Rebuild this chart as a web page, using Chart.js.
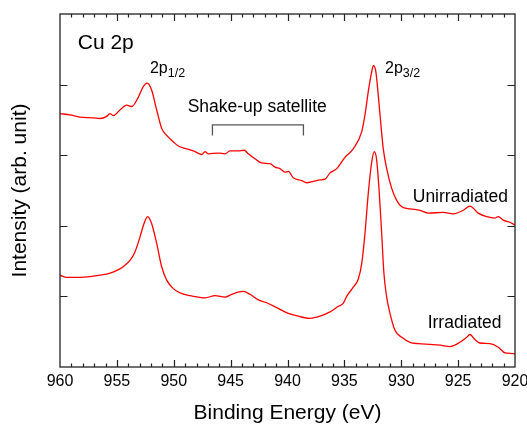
<!DOCTYPE html>
<html>
<head>
<meta charset="utf-8">
<script src="https://cdn.jsdelivr.net/npm/chart.js@4.4.0/dist/chart.umd.min.js"></script>
<style>
  html, body { margin: 0; padding: 0; background: #fff; }
  #wrap { width: 527px; height: 426px; }
</style>
</head>
<body>
<div id="wrap"><canvas id="chart-xps" width="527" height="426"></canvas></div>
<script>
/* Cu 2p XPS spectra – unirradiated vs irradiated */

// Binding energies (eV) and intensities
const energyUnirr = [960.0, 959.12, 958.24, 957.07, 956.48, 955.89, 955.60, 955.31, 954.73, 954.14,
  953.70, 953.12, 952.68, 952.33, 951.94, 951.50, 951.06, 950.62, 950.04, 949.60,
  948.86, 948.13, 947.54, 947.25, 946.96, 946.08, 945.49, 945.05, 944.33, 943.80,
  943.45, 942.86, 942.27, 941.54, 941.10, 940.66, 940.22, 939.93, 939.49, 938.75,
  938.31, 937.73, 937.14, 936.70, 936.26, 935.67, 934.95, 934.22, 933.48, 933.19,
  932.90, 932.60, 932.46, 932.25, 932.02, 931.81, 931.58, 931.28, 930.84, 930.40,
  929.96, 929.23, 928.35, 927.62, 926.30, 925.42, 924.54, 923.96, 923.23, 922.49,
  921.76, 921.47, 921.03, 920.44, 920.0];
const countsUnirr = [3.59, 3.57, 3.54, 3.53, 3.52, 3.55, 3.59, 3.56, 3.64, 3.71,
  3.69, 3.82, 3.97, 4.02, 3.92, 3.64, 3.38, 3.28, 3.19, 3.13,
  3.09, 3.05, 3.01, 3.05, 3.02, 3.03, 3.02, 3.06, 3.06, 3.07,
  3.02, 2.95, 2.89, 2.88, 2.83, 2.81, 2.76, 2.77, 2.68, 2.64,
  2.61, 2.63, 2.65, 2.66, 2.75, 2.81, 2.97, 3.09, 3.33, 3.57,
  3.90, 4.18, 4.27, 4.20, 3.85, 3.47, 3.09, 2.81, 2.53, 2.36,
  2.27, 2.24, 2.22, 2.18, 2.19, 2.17, 2.22, 2.28, 2.18, 2.13,
  2.11, 2.13, 2.08, 2.05, 2.01];

const energyIrr = [960.0, 959.41, 958.24, 957.36, 956.48, 955.60, 954.73, 954.29, 953.85, 953.41,
  952.97, 952.62, 952.29, 951.94, 951.50, 951.06, 950.62, 950.04, 949.45, 948.57,
  947.84, 947.25, 946.37, 945.49, 944.91, 943.89, 943.30, 942.57, 941.83, 940.95,
  939.93, 939.05, 938.02, 937.14, 936.26, 935.53, 935.10, 934.80, 934.22, 933.77,
  933.48, 933.19, 932.90, 932.60, 932.37, 932.16, 931.93, 931.72, 931.52, 931.28,
  930.99, 930.55, 929.96, 929.23, 928.50, 927.47, 926.59, 925.71, 924.84, 924.25,
  923.96, 923.52, 923.08, 922.20, 921.47, 920.88, 920.15, 920.0];
const countsIrr = [1.30, 1.27, 1.27, 1.28, 1.30, 1.33, 1.39, 1.44, 1.51, 1.63,
  1.84, 2.03, 2.13, 2.03, 1.75, 1.42, 1.23, 1.11, 1.05, 1.01,
  0.99, 0.98, 1.01, 0.99, 1.03, 1.07, 1.03, 0.95, 0.91, 0.84,
  0.76, 0.72, 0.69, 0.72, 0.78, 0.86, 0.90, 1.00, 1.13, 1.25,
  1.46, 1.89, 2.46, 2.90, 3.05, 2.93, 2.46, 1.89, 1.32, 0.99,
  0.76, 0.52, 0.42, 0.35, 0.33, 0.32, 0.31, 0.29, 0.35, 0.42,
  0.46, 0.39, 0.34, 0.33, 0.28, 0.20, 0.19, 0.18];

const xTickLabels = [960, 955, 950, 945, 940, 935, 930, 925, 920];
const yTickValues = [1, 2, 3, 4];
const satelliteRange = [946.6, 938.6];

const FONT = '"Liberation Sans", Arial, sans-serif';
const RED = '#ff0000';
const INK = '#000';
const FRAME = '#222';

function toPoints(xs, ys) {
  return xs.map((x, i) => ({ x, y: ys[i] }));
}

// frame, inward ticks, bracket and the text labels
const decorPlugin = {
  id: 'decor',
  afterDatasetsDraw(chart) {
    const { ctx, chartArea: a, scales: { x, y } } = chart;
    ctx.save();

    // frame
    ctx.strokeStyle = FRAME;
    ctx.lineWidth = 1.3;
    ctx.strokeRect(a.left, a.top, a.right - a.left, a.bottom - a.top);

    // x ticks, every 1 eV, long at every 5 eV (top and bottom, pointing in)
    ctx.lineWidth = 1.2;
    ctx.beginPath();
    for (let e = 921; e < 960; e++) {
      const px = Math.round(x.getPixelForValue(e)) + 0.5;
      const len = e % 5 === 0 ? 7 : 3.5;
      ctx.moveTo(px, a.bottom); ctx.lineTo(px, a.bottom - len);
      ctx.moveTo(px, a.top);    ctx.lineTo(px, a.top + len);
    }
    // y ticks, left and right
    yTickValues.forEach(v => {
      const py = Math.round(y.getPixelForValue(v)) + 0.5;
      ctx.moveTo(a.left, py);  ctx.lineTo(a.left + 7.5, py);
      ctx.moveTo(a.right, py); ctx.lineTo(a.right - 7.5, py);
    });
    ctx.stroke();

    // shake-up satellite bracket
    const bx1 = x.getPixelForValue(satelliteRange[0]);
    const bx2 = x.getPixelForValue(satelliteRange[1]);
    const byTop = y.getPixelForValue(3.43);
    const byBot = y.getPixelForValue(3.28);
    ctx.strokeStyle = '#555';
    ctx.lineWidth = 1.3;
    ctx.beginPath();
    ctx.moveTo(bx1, byBot); ctx.lineTo(bx1, byTop);
    ctx.lineTo(bx2, byTop); ctx.lineTo(bx2, byBot);
    ctx.stroke();

    // labels
    ctx.fillStyle = INK;
    ctx.textBaseline = 'alphabetic';
    ctx.textAlign = 'left';
    const text = (str, e, v, size) => {
      ctx.font = size + 'px ' + FONT;
      ctx.fillText(str, x.getPixelForValue(e), y.getPixelForValue(v));
    };
    const subText = (main, sub, e, v) => {
      const px = x.getPixelForValue(e);
      const py = y.getPixelForValue(v);
      ctx.font = '16px ' + FONT;
      ctx.fillText(main, px, py);
      const w = ctx.measureText(main).width;
      ctx.font = '12.5px ' + FONT;
      ctx.fillText(sub, px + w, py + 4);
    };

    text('Cu 2p', 958.44, 4.51, 21);
    subText('2p', '1/2', 952.09, 4.16);
    subText('2p', '3/2', 931.43, 4.16);
    text('Shake-up satellite', 948.78, 3.61, 17.5);
    text('Unirradiated', 928.99, 2.34, 17.5);
    text('Irradiated', 927.68, 0.55, 17.5);

    ctx.restore();
  },
};

function renderChart() {
  const ctx = document.getElementById('chart-xps').getContext('2d');

  new Chart(ctx, {
    type: 'line',
    data: {
      datasets: [
        {
          label: 'Unirradiated',
          data: toPoints(energyUnirr, countsUnirr),
          borderColor: RED,
          borderWidth: 1.3,
          pointRadius: 0,
          cubicInterpolationMode: 'monotone',
        },
        {
          label: 'Irradiated',
          data: toPoints(energyIrr, countsIrr),
          borderColor: RED,
          borderWidth: 1.3,
          pointRadius: 0,
          cubicInterpolationMode: 'monotone',
        },
      ],
    },
    options: {
      responsive: false,
      animation: false,
      devicePixelRatio: 1,
      layout: { padding: { top: 14, right: 12, bottom: 0, left: 0 } },
      plugins: {
        legend: { display: false },
        tooltip: { enabled: false },
      },
      scales: {
        x: {
          type: 'linear',
          min: 920,
          max: 960,
          reverse: true,
          grid: { display: false, drawTicks: false },
          border: { display: false },
          afterBuildTicks: scale => {
            scale.ticks = xTickLabels.map(v => ({ value: v }));
          },
          ticks: {
            color: INK,
            font: { family: FONT, size: 16 },
            padding: 5,
            maxRotation: 0,
            autoSkip: false,
            callback: v => String(v),
          },
          title: {
            display: true,
            text: 'Binding Energy (eV)',
            color: INK,
            font: { family: FONT, size: 21 },
            padding: { top: 0, bottom: 0 },
          },
          afterFit: scale => {
            scale.height = 59;
            scale.paddingLeft = 0;
            scale.paddingRight = 0;
          },
        },
        y: {
          type: 'linear',
          min: 0,
          max: 5,
          grid: { display: false, drawTicks: false },
          border: { display: false },
          ticks: { display: false },
          title: {
            display: true,
            text: 'Intensity (arb. unit)',
            color: INK,
            font: { family: FONT, size: 21 },
            padding: { top: 8, bottom: 0 },
          },
          afterFit: scale => {
            scale.width = 60;
          },
        },
      },
    },
    plugins: [decorPlugin],
  });
}

document.addEventListener('DOMContentLoaded', renderChart);
</script>
</body>
</html>
